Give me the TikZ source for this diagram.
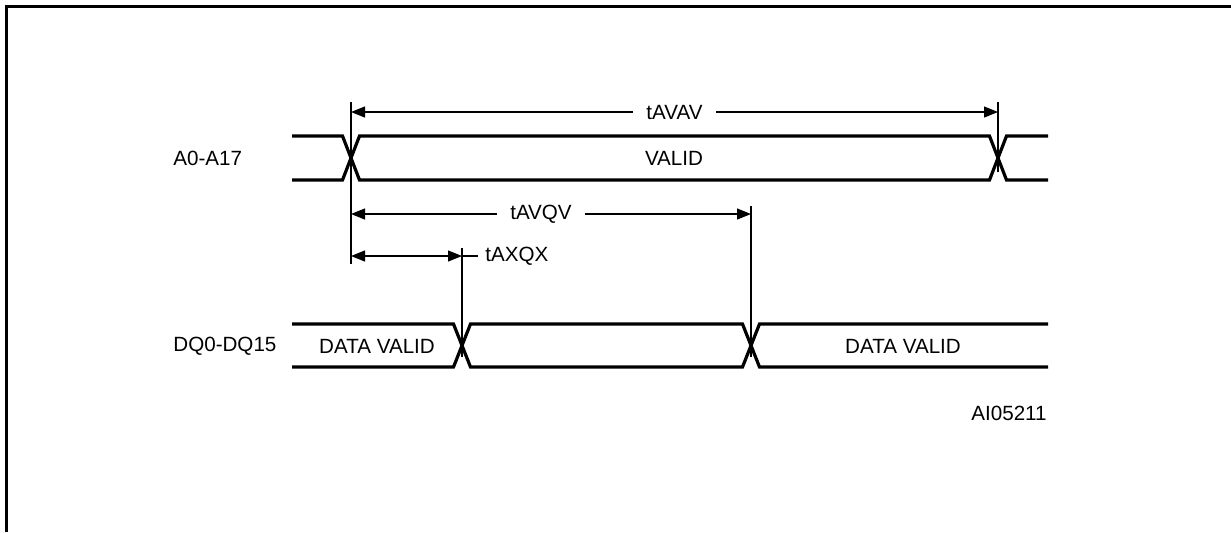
\documentclass[tikz,border=0pt]{standalone}
\usepackage{fontspec}
\setmainfont{Liberation Sans}
\usetikzlibrary{arrows.meta}
\begin{document}
\begin{tikzpicture}[x=0.5pt,y=-0.5pt,
  sig/.style={line width=1.6pt, line join=miter},
  dimline/.style={line width=0.6pt},
  arr/.style={dimline,-{Triangle[length=7pt,width=5.5pt]}},
  lbl/.style={font=\fontsize{10.3}{12}\selectfont, inner sep=0pt},
  gaplbl/.style={lbl, inner xsep=6.5pt},
  frame/.style={line width=1.5pt}]
\useasboundingbox (0,0) rectangle (1231,532);
% frame
\draw[frame] (6,532) -- (6,6) -- (1231,6);
% signal names
\node[lbl, anchor=west] (na) at (173,158) {A0-A17};
\node[lbl, anchor=west] (nd) at (173,346) {DQ0-DQ15};
% A0-A17 bus
\draw[sig] (292,136) -- (342.5,136) -- (359.5,180) -- (989.5,180) -- (1006.5,136) -- (1048,136);
\draw[sig] (292,180) -- (342.5,180) -- (359.5,136) -- (989.5,136) -- (1006.5,180) -- (1048,180);
\node[lbl] (valid) at (674,158) {VALID};
% DQ bus
\draw[sig] (292,324) -- (453.5,324) -- (470.5,367) -- (742.5,367) -- (759.5,324) -- (1048,324);
\draw[sig] (292,367) -- (453.5,367) -- (470.5,324) -- (742.5,324) -- (759.5,367) -- (1048,367);
\node[lbl] (dv1) at (377,346) {DATA VALID};
\node[lbl] (dv2) at (903,346) {DATA VALID};
% reference ticks
\coordinate (t1top) at (351,102);
\coordinate (t1bot) at (351,264);
\coordinate (t2top) at (998,102);
\coordinate (t2bot) at (998,172);
\coordinate (t3top) at (751,206);
\coordinate (t3bot) at (751,357);
\coordinate (t4top) at (462,248);
\coordinate (t4bot) at (462,357);
\draw[dimline] (t1top) -- (t1bot);
\draw[dimline] (t2top) -- (t2bot);
\draw[dimline] (t3top) -- (t3bot);
\draw[dimline] (t4top) -- (t4bot);
% tAVAV
\node[gaplbl] (tavav) at (674.5,112) {tAVAV};
\coordinate (avavL) at (351,112);
\coordinate (avavR) at (998,112);
\draw[arr] (tavav.west) -- (avavL);
\draw[arr] (tavav.east) -- (avavR);
% tAVQV
\node[gaplbl] (tavqv) at (541,214) {tAVQV};
\coordinate (avqvL) at (351,214);
\coordinate (avqvR) at (751,214);
\draw[arr] (tavqv.west) -- (avqvL);
\draw[arr] (tavqv.east) -- (avqvR);
% tAXQX
\node[lbl, anchor=west] (taxqx) at (485,256) {tAXQX};
\coordinate (axqxL) at (351,256);
\coordinate (axqxR) at (462,256);
\coordinate (axqxM) at (406,256);
\draw[arr] (axqxM) -- (axqxL);
\draw[arr] (axqxM) -- (axqxR);
\draw[dimline] (axqxR) -- ([xshift=-3.5pt]taxqx.west);
% figure id
\node[lbl, anchor=east] (aiid) at (1047,413) {AI05211};
\end{tikzpicture}
\end{document}
